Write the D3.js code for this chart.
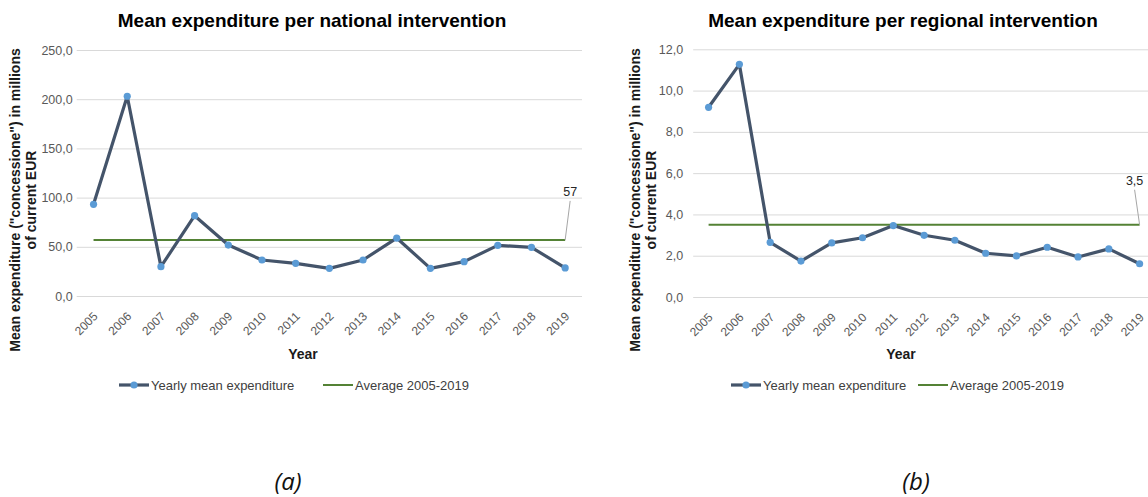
<!DOCTYPE html>
<html>
<head>
  <meta charset="utf-8">
  <title>Mean expenditure per intervention</title>
  <script src="https://d3js.org/d3.v7.min.js"></script>
  <style>
    body { margin: 0; background: #fff; }
    svg { display: block; font-family: "Liberation Sans", Arial, sans-serif; }
  </style>
</head>
<body>
  <div id="chart"></div>

  <script>
    // Data
    const years = ['2005', '2006', '2007', '2008', '2009', '2010', '2011', '2012',
                   '2013', '2014', '2015', '2016', '2017', '2018', '2019'];
    const nationalMean = [93.2, 203.0, 29.8, 81.6, 51.8, 36.6, 33.2, 28.1,
                          36.6, 58.9, 28.1, 34.9, 51.5, 49.5, 28.5];
    const regionalMean = [9.19, 11.27, 2.65, 1.74, 2.62, 2.87, 3.46, 2.99,
                          2.75, 2.12, 1.99, 2.41, 1.94, 2.33, 1.61];
    const nationalAvg = 57;
    const regionalAvg = 3.5;
    const nationalTicks = [0, 50, 100, 150, 200, 250];
    const regionalTicks = [0, 2, 4, 6, 8, 10, 12];
    const seriesNames = ['Yearly mean expenditure', 'Average 2005-2019'];

    const width = 1148;
    const height = 497;
    const font = '"Liberation Sans", Arial, sans-serif';
    const fmt = v => v.toFixed(1).replace('.', ',');

    const svg = d3.select('#chart')
      .append('svg')
      .attr('width', width)
      .attr('height', height);

    function drawPanel(p) {
      const g = svg.append('g');

      const x = d3.scaleBand().domain(years).range(p.xRange);
      const y = d3.scaleLinear().domain(p.yDomain).range(p.yRange);
      const cx = d => x(d) + x.bandwidth() / 2;

      // gridlines + value labels
      const yAxis = d3.axisLeft(y).tickValues(p.ticks).tickFormat(fmt)
        .tickSize(-(p.xRange[1] - p.xRange[0])).tickPadding(p.labelGap);
      g.append('g')
        .attr('transform', `translate(${p.xRange[0]},0)`)
        .call(yAxis)
        .attr('font-family', font)
        .call(a => a.select('.domain').remove())
        .call(a => a.selectAll('line').attr('stroke', '#d9d9d9'))
        .call(a => a.selectAll('text').attr('fill', '#595959').attr('font-size', 12.5));

      // year labels, rotated
      const xAxis = d3.axisBottom(x).tickSize(0).tickPadding(0);
      g.append('g')
        .attr('transform', `translate(0,${p.yRange[0]})`)
        .call(xAxis)
        .attr('font-family', font)
        .call(a => a.select('.domain').remove())
        .call(a => a.selectAll('text')
          .attr('fill', '#595959').attr('font-size', 12)
          .attr('text-anchor', 'end').attr('dy', null).attr('y', null)
          .attr('transform', 'translate(5,21) rotate(-45)'));

      // average line
      g.append('line')
        .attr('x1', cx(years[0])).attr('x2', cx(years[years.length - 1]))
        .attr('y1', y(p.avg)).attr('y2', y(p.avg))
        .attr('stroke', '#548235').attr('stroke-width', 2);

      // yearly series
      const pts = years.map((yr, i) => [cx(yr), y(p.values[i])]);
      g.append('path')
        .attr('d', d3.line()(pts))
        .attr('fill', 'none').attr('stroke', '#44546a')
        .attr('stroke-width', 3.2).attr('stroke-linejoin', 'round');
      g.selectAll('.dot')
        .data(pts)
        .enter().append('circle')
        .attr('class', 'dot')
        .attr('cx', d => d[0]).attr('cy', d => d[1]).attr('r', 3.6)
        .attr('fill', '#5b9bd5');

      // average data label with leader
      const ex = cx(years[years.length - 1]);
      const ey = y(p.avg);
      g.append('line')
        .attr('x1', ex).attr('y1', ey)
        .attr('x2', ex + p.leader[0]).attr('y2', ey + p.leader[1])
        .attr('stroke', '#a6a6a6').attr('stroke-width', 1);
      g.append('text')
        .attr('x', ex + p.leader[0]).attr('y', ey + p.leader[1] - 5)
        .attr('text-anchor', 'middle').attr('font-size', 12.5).attr('fill', '#262626')
        .text(p.avgLabel);

      // title
      g.append('text')
        .attr('x', p.titleX).attr('y', 27)
        .attr('text-anchor', 'middle').attr('font-size', 19).attr('font-weight', 'bold')
        .text(p.title);

      // y axis title
      const yt = g.append('text')
        .attr('transform', `translate(${p.yTitleX},200) rotate(-90)`)
        .attr('text-anchor', 'middle').attr('font-size', 14).attr('font-weight', 'bold')
        .attr('fill', '#1a1a1a');
      yt.append('tspan').attr('x', 0).attr('y', 0)
        .text('Mean expenditure ("concessione") in millions');
      yt.append('tspan').attr('x', 0).attr('y', 16).text('of current EUR');

      // x axis title
      g.append('text')
        .attr('x', p.xTitleX).attr('y', 359)
        .attr('text-anchor', 'middle').attr('font-size', 14).attr('font-weight', 'bold')
        .attr('fill', '#1a1a1a')
        .text('Year');

      // legend
      const lg = g.append('g').attr('transform', `translate(${p.legendX},385)`);
      lg.append('line').attr('x1', 0).attr('x2', 30).attr('y1', 0).attr('y2', 0)
        .attr('stroke', '#44546a').attr('stroke-width', 3.2);
      lg.append('circle').attr('cx', 15).attr('cy', 0).attr('r', 3.6).attr('fill', '#5b9bd5');
      lg.append('text').attr('x', 32).attr('y', 4.5).attr('font-size', 13)
        .attr('fill', '#404040').text(seriesNames[0]);
      lg.append('line').attr('x1', p.legendGap).attr('x2', p.legendGap + 30)
        .attr('y1', 0).attr('y2', 0)
        .attr('stroke', '#548235').attr('stroke-width', 2);
      lg.append('text').attr('x', p.legendGap + 32).attr('y', 4.5).attr('font-size', 13)
        .attr('fill', '#404040').text(seriesNames[1]);

      // sub-caption
      svg.append('text')
        .attr('x', p.captionX).attr('y', 490)
        .attr('text-anchor', 'middle').attr('font-size', 24)
        .attr('font-family', '"Open Sans", sans-serif').attr('font-style', 'italic')
        .attr('fill', '#111')
        .text(p.caption);
    }

    drawPanel({
      title: 'Mean expenditure per national intervention',
      values: nationalMean, avg: nationalAvg, avgLabel: '57',
      ticks: nationalTicks, yDomain: [0, 250],
      xRange: [76.7, 582], yRange: [296, 50], labelGap: 4,
      titleX: 312, yTitleX: 20, xTitleX: 303,
      legendX: 119, legendGap: 204, leader: [5, -39],
      captionX: 288, caption: '(a)'
    });

    drawPanel({
      title: 'Mean expenditure per regional intervention',
      values: regionalMean, avg: regionalAvg, avgLabel: '3,5',
      ticks: regionalTicks, yDomain: [0, 12],
      xRange: [693.2, 1155], yRange: [297, 49.3], labelGap: 10,
      titleX: 903, yTitleX: 640, xTitleX: 901,
      legendX: 731, legendGap: 187, leader: [-5, -35],
      captionX: 916, caption: '(b)'
    });
  </script>
</body>
</html>
